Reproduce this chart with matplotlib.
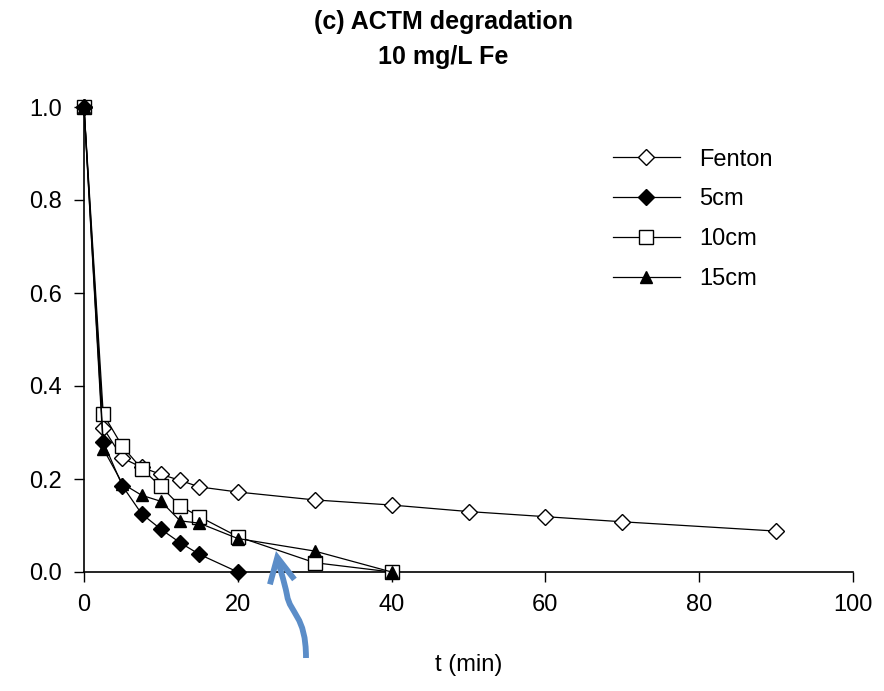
import matplotlib
matplotlib.use("Agg")
import matplotlib.pyplot as plt
from matplotlib.patches import FancyArrowPatch
from matplotlib.path import Path
from matplotlib.transforms import Affine2D

plt.rcParams['font.family'] = ['Liberation Sans', 'DejaVu Sans']

# sampling times (min)
t_fenton = [0, 2.5, 5, 7.5, 10, 12.5, 15, 20, 30, 40, 50, 60, 70, 90]
t_5cm = [0, 2.5, 5, 7.5, 10, 12.5, 15, 20]
t_10cm = [0, 2.5, 5, 7.5, 10, 12.5, 15, 20, 30, 40]
t_15cm = [0, 2.5, 5, 7.5, 10, 12.5, 15, 20, 30, 40]

# normalised concentration C/C0
c_fenton = [1.0, 0.31, 0.245, 0.225, 0.21, 0.197, 0.183, 0.172, 0.155, 0.144, 0.13, 0.119, 0.108, 0.088]
c_5cm = [1.0, 0.28, 0.185, 0.125, 0.092, 0.063, 0.038, 0.0]
c_10cm = [1.0, 0.34, 0.27, 0.222, 0.184, 0.142, 0.119, 0.076, 0.02, 0.0]
c_15cm = [1.0, 0.265, 0.19, 0.165, 0.152, 0.11, 0.105, 0.072, 0.045, 0.0]

W, H = 884, 691
fig = plt.figure(figsize=(W / 100, H / 100), dpi=100)
ax = fig.add_axes([84 / W, (H - 572) / H, 769 / W, 465 / H])

lw = 0.9
ax.plot(t_fenton, c_fenton, color='black', lw=lw, marker='D', ms=8,
        mfc='white', mec='black', mew=1.0, label='Fenton', clip_on=False, zorder=3)
ax.plot(t_5cm, c_5cm, color='black', lw=lw, marker='D', ms=8,
        mfc='black', mec='black', label='5cm', clip_on=False, zorder=4)
ax.plot(t_10cm, c_10cm, color='black', lw=lw, marker='s', ms=10,
        mfc='white', mec='black', mew=1.0, label='10cm', clip_on=False, zorder=3)
ax.plot(t_15cm, c_15cm, color='black', lw=lw, marker='^', ms=9,
        mfc='black', mec='black', label='15cm', clip_on=False, zorder=4)

ax.set_xlim(0, 100)
ax.set_ylim(0, 1.0)
ax.set_xticks([0, 20, 40, 60, 80, 100])
ax.set_yticks([0.0, 0.2, 0.4, 0.6, 0.8, 1.0])
ax.set_yticklabels(['0.0', '0.2', '0.4', '0.6', '0.8', '1.0'])
ax.tick_params(direction='out', length=7, width=1, labelsize=17)
ax.tick_params(axis='y', pad=9)
ax.tick_params(axis='x', pad=9)
ax.spines['top'].set_visible(False)
ax.spines['right'].set_visible(False)
ax.spines['left'].set_linewidth(1.2)
ax.spines['bottom'].set_linewidth(1.2)

ax.set_xlabel('t (min)', fontsize=17, labelpad=27)
fig.text(443 / W, 1 - 22 / H, '(c) ACTM degradation', ha='center', va='center',
         fontsize=18, fontweight='bold')
fig.text(443 / W, 1 - 57 / H, '10 mg/L Fe', ha='center', va='center',
         fontsize=18, fontweight='bold')

leg = ax.legend(loc='upper left', bbox_to_anchor=(0.66, 0.956), frameon=False,
                fontsize=17, handlelength=2.85, handletextpad=0.8,
                labelspacing=0.75, markerscale=1.0)

# blue hand-drawn style arrow (pixel coords, y from top)
px = Affine2D().scale(1, -1).translate(0, H)
verts = [(306, 658), (306, 615), (290, 614), (287, 595),
         (284, 580), (279, 566), (276, 551)]
codes = [Path.MOVETO, Path.CURVE4, Path.CURVE4, Path.CURVE4,
         Path.CURVE4, Path.CURVE4, Path.CURVE4]
arrow = FancyArrowPatch(path=Path(verts, codes), transform=px,
                        arrowstyle='->,head_length=0.6,head_width=0.3',
                        mutation_scale=30, color='#5B8DC8', lw=4.2,
                        capstyle='butt', joinstyle='miter')
fig.add_artist(arrow)

fig.savefig('out.png', dpi=100)
